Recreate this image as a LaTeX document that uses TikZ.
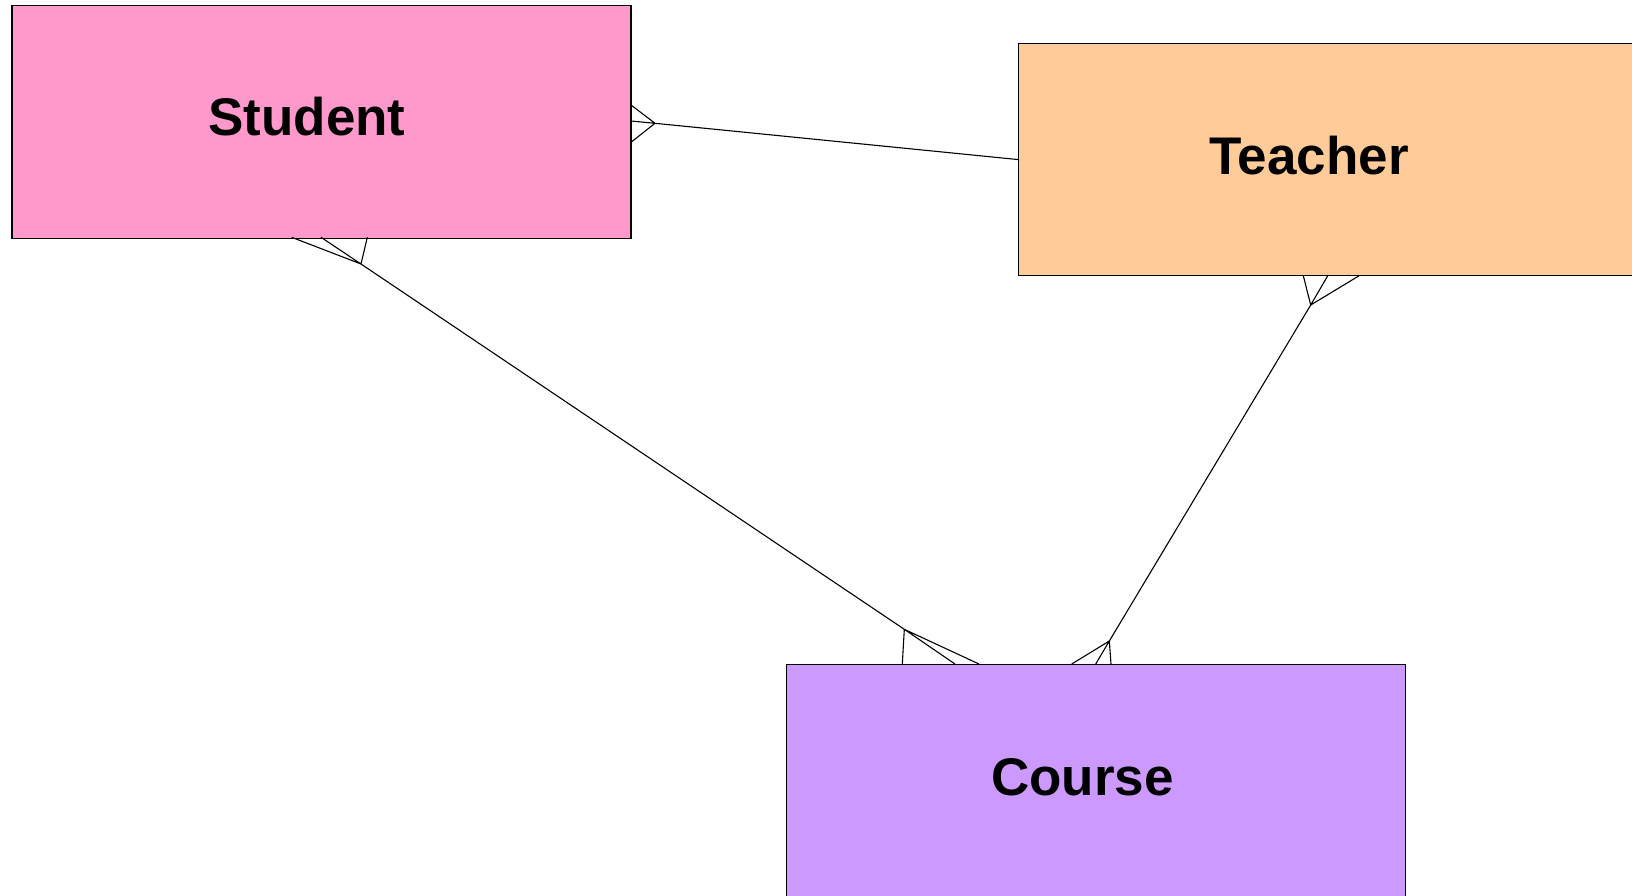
\documentclass[tikz,border=0pt]{standalone}
\usepackage{fontspec}
\setmainfont{Liberation Sans}
\definecolor{studentpink}{HTML}{FF99CC}
\definecolor{teacherpeach}{HTML}{FFCC99}
\definecolor{courselilac}{HTML}{CC99FF}
\begin{document}
\begin{tikzpicture}[x=1pt,y=-1pt,
  entity/.style={draw=black, line width=1.2pt, minimum width=619pt,
    minimum height=232.5pt, inner sep=0pt, anchor=north west},
  entname/.style={font=\bfseries\fontsize{53}{60}\selectfont,
    anchor=base, inner sep=0pt},
  rel/.style={draw=black, line width=1.1pt}]
\clip (0,0) rectangle (1632,895);
\fill[white] (0,0) rectangle (1632,895);

% entities
\node[entity, fill=studentpink]  (student) at (11.4,5.2)  {};
\node[entity, fill=teacherpeach] (teacher) at (1018,42.7) {};
\node[entity, fill=courselilac, minimum height=240pt] (course) at (785.8,664) {};

\node[entname] (studentname) at (307,135.3) {Student};
\node[entname] (teachername) at (1309,174.9) {Teacher};
\node[entname] (coursename)  at (1082.5,795) {Course};

% crow's-foot vertices
\coordinate (fst) at (655,123.3);    % Student side of Student--Teacher
\coordinate (fsc) at (361,264);      % Student side of Student--Course
\coordinate (fcs) at (904.3,629.3);  % Course side of Student--Course
\coordinate (ftc) at (1310.7,305);   % Teacher side of Teacher--Course
\coordinate (fct) at (1109.3,641);   % Course side of Teacher--Course

% prong ends on the entity borders
\coordinate (st1) at (631,105);   \coordinate (st2) at (631,121);   \coordinate (st3) at (631,142.3);
\coordinate (sc1) at (291.7,237.3); \coordinate (sc2) at (321,237.3); \coordinate (sc3) at (367.3,237.3);
\coordinate (cs1) at (902.3,664); \coordinate (cs2) at (955,664);   \coordinate (cs3) at (979,664);
\coordinate (tc1) at (1303.3,275.8); \coordinate (tc2) at (1327.7,275.8); \coordinate (tc3) at (1359,275.8);
\coordinate (ct1) at (1071.7,664); \coordinate (ct2) at (1095.7,664); \coordinate (ct3) at (1111,664);

% Student -- Teacher
\draw[rel] (st1) -- (fst) (st2) -- (fst) (st3) -- (fst);
\draw[rel] (fst) -- (teacher.west);

% Student -- Course
\draw[rel] (sc1) -- (fsc) (sc2) -- (fsc) (sc3) -- (fsc);
\draw[rel] (fsc) -- (fcs);
\draw[rel] (cs1) -- (fcs) (cs2) -- (fcs) (cs3) -- (fcs);

% Teacher -- Course
\draw[rel] (tc1) -- (ftc) (tc2) -- (ftc) (tc3) -- (ftc);
\draw[rel] (ftc) -- (fct);
\draw[rel] (ct1) -- (fct) (ct2) -- (fct) (ct3) -- (fct);
\end{tikzpicture}
\end{document}
